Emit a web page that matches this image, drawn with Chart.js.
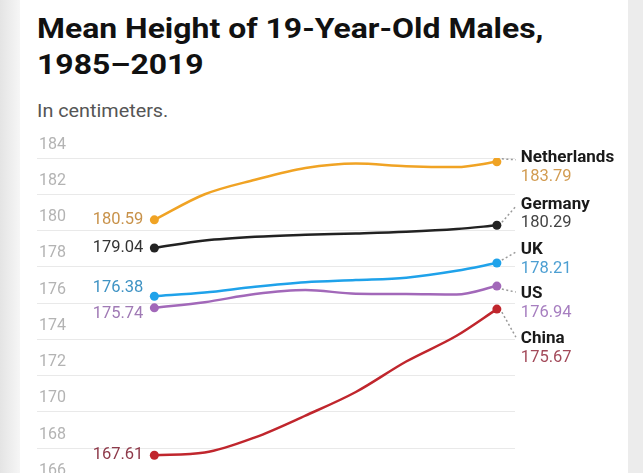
<!DOCTYPE html>
<html>
<head>
<meta charset="utf-8">
<script src="https://cdn.jsdelivr.net/npm/chart.js@4.4.1/dist/chart.umd.min.js"></script>
<style>
  html, body { margin: 0; padding: 0; width: 643px; height: 473px; overflow: hidden; background: #fff; }
  body { position: relative; font-family: Roboto, "Noto Sans", sans-serif; }
  .edgeL { position: absolute; left: 0; top: 0; width: 20px; height: 473px; background: linear-gradient(to right, #e4e4e4, #f6f6f6); }
  .edgeR { position: absolute; right: 0; top: 0; width: 15px; height: 473px; background: #ececec; }
  h1 { position: absolute; left: 37px; top: 11px; margin: 0; font-size: 28px; line-height: 36px; font-weight: 700; color: #111;
       white-space: nowrap; transform: scaleX(1.14); transform-origin: left top; }
  .sub { position: absolute; left: 37px; top: 100px; font-size: 18px; color: #555; white-space: nowrap;
         transform: scaleX(1.1); transform-origin: left top; }
  canvas { position: absolute; left: 0; top: 0; }
</style>
</head>
<body>
<div class="edgeL"></div>
<div class="edgeR"></div>
<h1>Mean Height of 19-Year-Old Males,<br>1985–2019</h1>
<div class="sub">In centimeters.</div>
<canvas id="heightChart" width="643" height="500"></canvas>
<script>
//================================ Data ================================
var years = [1985, 1990, 1995, 2000, 2005, 2010, 2015, 2019];
var countries = ['Netherlands', 'Germany', 'UK', 'US', 'China'];
var netherlands = [180.59, 182.0, 182.8, 183.45, 183.7, 183.55, 183.5, 183.79];
var germany = [179.04, 179.45, 179.66, 179.77, 179.84, 179.93, 180.08, 180.29];
var uk = [176.38, 176.58, 176.9, 177.15, 177.27, 177.4, 177.78, 178.21];
var us = [175.74, 176.05, 176.5, 176.72, 176.52, 176.5, 176.47, 176.94];
var china = [167.61, 167.76, 168.6, 169.8, 171.1, 172.78, 174.2, 175.67];
var yTicks = [166, 168, 170, 172, 174, 176, 178, 180, 182, 184];

//================================ Styles ================================
var lineColors = ['#f0a324', '#222222', '#1fa2ea', '#a268b9', '#c0262d'];
var textColors = ['#c8924a', '#333333', '#3f93c4', '#a07ab5', '#8e3a4a'];
var endTextColors = ['#d29c52', '#444444', '#4d9fd2', '#a77fc0', '#a34a5a'];
// vertical shift of left value label / right name label from the point
var startShift = [0, 0, -8, 6, 0];
var endShift = [-4, -21, -13, 8, 30];

var allSeries = [netherlands, germany, uk, us, china];

var datasets = allSeries.map(function(vals, i) {
    return {
        label: countries[i],
        data: vals.map(function(v, j) { return {x: years[j], y: v}; }),
        borderColor: lineColors[i],
        backgroundColor: lineColors[i],
        borderWidth: 2.5,
        cubicInterpolationMode: 'monotone',
        pointRadius: vals.map(function(v, j) { return (j === 0 || j === vals.length - 1) ? 4.5 : 0; }),
        pointBorderWidth: 0
    };
});

//================================ Labels plugin ================================
var labelPlugin = {
    id: 'endLabels',
    afterDatasetsDraw: function(chart) {
        var ctx = chart.ctx;
        chart.data.datasets.forEach(function(ds, i) {
            var pts = chart.getDatasetMeta(i).data;
            var first = pts[0];
            var last = pts[pts.length - 1];
            var vals = allSeries[i];

            ctx.save();
            ctx.font = '16.5px Roboto';
            ctx.fillStyle = textColors[i];
            ctx.textAlign = 'right';
            ctx.textBaseline = 'middle';
            ctx.fillText(vals[0].toFixed(2), first.x - 11, first.y + startShift[i]);

            // dotted leader
            var lx = last.x + 24;
            var ly = last.y + endShift[i];
            ctx.strokeStyle = '#9a9a9a';
            ctx.lineWidth = 1.5;
            ctx.setLineDash([2, 2.5]);
            ctx.beginPath();
            ctx.moveTo(last.x + 5, last.y + (endShift[i] > 0 ? 3 : -3));
            ctx.lineTo(lx - 5, ly + (endShift[i] > 0 ? -2 : 2));
            ctx.stroke();
            ctx.setLineDash([]);

            ctx.textAlign = 'left';
            ctx.font = 'bold 17px Roboto';
            ctx.fillStyle = '#1a1a1a';
            ctx.fillText(countries[i], lx, ly);
            ctx.font = '16.5px Roboto';
            ctx.fillStyle = endTextColors[i];
            ctx.fillText(vals[vals.length - 1].toFixed(2), lx, ly + 19);
            ctx.restore();
        });
    }
};

//================================ Chart ================================
var ctxChart = document.getElementById('heightChart').getContext('2d');
var heightChart = new Chart(ctxChart, {
    type: 'line',
    data: { datasets: datasets },
    options: {
        responsive: false,
        animation: false,
        layout: { padding: { top: 158, left: 33, right: 128, bottom: 15.5 } },
        plugins: {
            legend: { display: false },
            tooltip: { enabled: false }
        },
        scales: {
            x: {
                type: 'linear',
                min: 1973.35,
                max: 2020.8,
                display: false
            },
            y: {
                min: 166,
                max: 184,
                border: { display: false },
                grid: { color: '#e9e9e9', lineWidth: 1, drawTicks: false },
                afterBuildTicks: function(axis) {
                    axis.ticks = yTicks.map(function(v) { return {value: v}; });
                },
                ticks: {
                    mirror: true,
                    padding: 2,
                    labelOffset: -13.5,
                    color: '#b3b3b3',
                    font: { family: 'Roboto', size: 16 }
                }
            }
        }
    },
    plugins: [labelPlugin]
});
</script>
</body>
</html>
